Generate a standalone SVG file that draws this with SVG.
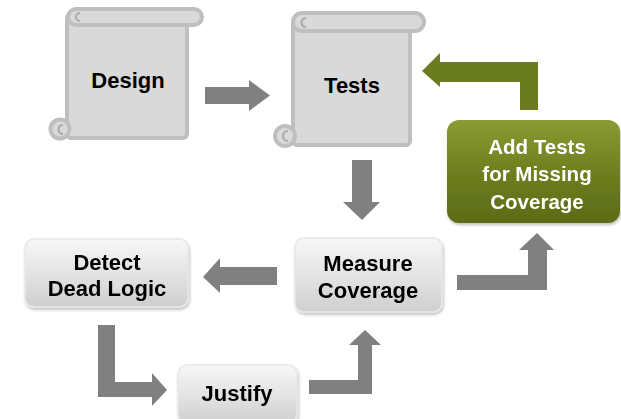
<svg xmlns="http://www.w3.org/2000/svg" width="621" height="419" viewBox="0 0 621 419">
<defs>
<style>
.scroll{fill:#d9d9d9;stroke:#bfbfbf;stroke-width:4}
.curl{fill:none;stroke:#a8a8a8;stroke-width:2}
.box{fill:url(#gGray);stroke:#e8e8e8;stroke-width:1.5}
.t{font-family:"Liberation Sans",Arial,sans-serif;font-weight:bold;font-size:22px;fill:#000;text-anchor:middle}
.tw{font-family:"Liberation Sans",Arial,sans-serif;font-weight:bold;font-size:20.5px;fill:#fff;text-anchor:middle}
.arr{fill:#808080}
.garr{fill:#6b7b1f}
</style>
<linearGradient id="gGray" x1="0" y1="0" x2="0" y2="1">
<stop offset="0" stop-color="#f7f7f7"/>
<stop offset="0.5" stop-color="#e4e4e4"/>
<stop offset="1" stop-color="#cfcfcf"/>
</linearGradient>
<linearGradient id="gGreen" x1="0" y1="0" x2="0" y2="1">
<stop offset="0" stop-color="#8a9b32"/>
<stop offset="0.5" stop-color="#6e7f20"/>
<stop offset="1" stop-color="#5c6b17"/>
</linearGradient>
<filter id="sh" x="-10%" y="-10%" width="130%" height="130%">
<feDropShadow dx="1" dy="2" stdDeviation="1.5" flood-color="#000" flood-opacity="0.25"/>
</filter>
</defs>

<g id="connectors">
<path class="arr" d="M205 87 H249 V80 L270 95.5 L249 111 V104 H205 Z"/>
<path class="garr" d="M538 62 V110 H520 V82 H440 V87 L422 71 L440 53 V62 Z"/>
<path class="arr" d="M352 160 H372 V202 H380 L362 220 L343 202 H352 Z"/>
<path class="arr" d="M277 267 V285 H220 V293 L203 277 L220 258 V267 Z"/>
<path class="arr" d="M457 275 H528 V250 H519 L537 233 L554 250 H547 V290 H457 Z"/>
<path class="arr" d="M98 325 H115 V382 H152 V373 L167 390 L152 406 V397 H98 Z"/>
<path class="arr" d="M309 380 H358 V345 H349 L365 330 L381 345 H372 V394 H309 Z"/>
</g>

<g id="design">
<rect class="scroll" x="67" y="14" width="120" height="124" rx="4"/>
<circle class="scroll" cx="60" cy="129" r="9.5"/>
<path class="curl" d="M63 134 A4.5 4.5 0 1 1 63 125"/>
<rect class="scroll" x="68" y="9" width="134" height="16" rx="8"/>
<path class="curl" d="M80 21 A4 4 0 1 1 80 13"/>
<text class="t" x="128" y="88">Design</text>
</g>

<g id="tests">
<rect class="scroll" x="293" y="18" width="117" height="127" rx="4"/>
<circle class="scroll" cx="285" cy="136" r="10"/>
<path class="curl" d="M288 141 A5 5 0 1 1 288 131"/>
<rect class="scroll" x="293" y="13" width="131" height="18" rx="9"/>
<path class="curl" d="M306 27 A4.5 4.5 0 1 1 306 18"/>
<text class="t" x="352" y="93">Tests</text>
</g>

<g id="add-tests" filter="url(#sh)">
<rect x="447" y="120" width="173" height="103" rx="12" fill="url(#gGreen)"/>
<text class="tw" x="537" y="154">Add Tests</text>
<text class="tw" x="537" y="181">for Missing</text>
<text class="tw" x="537" y="209">Coverage</text>
</g>

<g id="measure" filter="url(#sh)">
<rect class="box" x="295" y="238" width="147" height="74" rx="9"/>
<text class="t" x="368" y="271">Measure</text>
<text class="t" x="368" y="298">Coverage</text>
</g>

<g id="detect" filter="url(#sh)">
<rect class="box" x="25" y="239" width="163" height="68" rx="9"/>
<text class="t" x="107" y="270">Detect</text>
<text class="t" x="107" y="296">Dead Logic</text>
</g>

<g id="justify" filter="url(#sh)">
<rect class="box" x="178" y="365" width="119" height="58" rx="9"/>
<text class="t" x="237" y="401">Justify</text>
</g>
</svg>
